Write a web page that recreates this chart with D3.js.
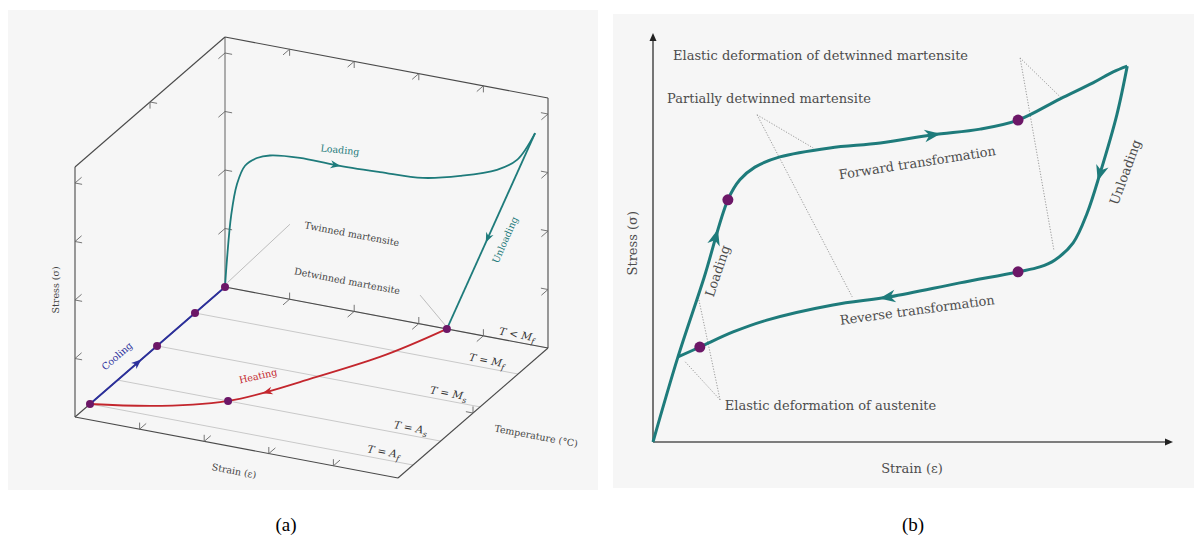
<!DOCTYPE html>
<html>
<head>
<meta charset="utf-8">
<script src="https://cdn.jsdelivr.net/npm/d3@7"></script>
<style>
  body { margin: 0; background: #fff; }
  text { font-family: "DejaVu Serif", serif; }
</style>
</head>
<body>
<svg id="fig" width="1194" height="544"></svg>
<script>
// ---------- panel (a): strain u, temperature depth t (0 = back, 1 = front), stress v ----------
const strainTicksA = [0.2, 0.4, 0.6, 0.8];
const stressTicksA = [0.234, 0.468, 0.702, 0.936];
const tempTicksA = [0.5];
// loading / unloading lie in the back plane (t = 0): [strain, stress]
const loadingA = [[0,0],[0.006,0.11],[0.019,0.29],[0.037,0.42],[0.062,0.50],[0.099,0.54],[0.139,0.56],
  [0.232,0.573],[0.341,0.571],[0.48,0.577],[0.613,0.586],[0.728,0.622],[0.842,0.674],[0.904,0.729],[0.96,0.85]];
const unloadingA = [[0.96,0.85],[0.687,0]];
// heating lies on the floor (v = 0): [strain, depth]
const heatingA = [[0.687,0],[0.599,0.257],[0.469,0.511],[0.342,0.716],[0.158,0.841],[0,0.9]];
const tempLevels = [0, 0.2, 0.453, 0.716, 0.9];
const tempNames = [["<","M","f"],["=","M","f"],["=","M","s"],["=","A","s"],["=","A","f"]];
const coolingDots = [0.9, 0.453, 0.2, 0];
const heatingDot = [0.342, 0.716];
const detwinDot = 0.687;

// ---------- panel (b): strain, stress (percent of axis) ----------
const loadingB = [[0,0],[4.8,20.8],[9.8,40.1],[14.4,59.2],[16.7,64.1],[19.6,67.2],[24.4,69.7],[34,71.9],
  [43.7,73.1],[53.8,75.1],[62.9,76.5],[70.2,78.7],[78.3,83.9],[84.6,87.8],[88.5,90.5],[91.2,91.9]];
const unloadingB = [[91.2,91.9],[89.2,80],[86,65.8],[83.5,56],[80.8,48.7],[77.3,44.5],[74.4,42.8],[70.2,41.6],
  [59,38.9],[45.6,35.5],[34.6,33.5],[21.9,29.8],[15.4,26.9],[9,23.2],[4.8,20.8]];
const dotsB = [[14.4,59.2],[70.2,78.7],[70.2,41.6],[9,23.2]];
const leadersB = [
  {from:[20,80], to:[[30.8,71.9],[38.3,35.5]]},
  {from:[70.6,93.9], to:[[78.7,83.9],[77.1,46.9]]},
  {from:[12.9,10.3], to:[[8.7,35.5],[6.2,19.6]]}
];

const teal = "#1e7b7b", purple = "#6c1767", blue = "#2b2f9c", red = "#c3262d", ink = "#4a4a4a";
const svg = d3.select("#fig");

function arrowOn(g, node, target, color, size) {
  const L = node.getTotalLength();
  let best = 0, bd = Infinity;
  for (let i = 0; i <= 500; i++) {
    const l = L * i / 500, p = node.getPointAtLength(l);
    const d = (p.x - target[0]) ** 2 + (p.y - target[1]) ** 2;
    if (d < bd) { bd = d; best = l; }
  }
  const p0 = node.getPointAtLength(Math.max(0, best - 2)), p1 = node.getPointAtLength(Math.min(L, best + 2));
  const ang = Math.atan2(p1.y - p0.y, p1.x - p0.x) * 180 / Math.PI;
  const p = node.getPointAtLength(best);
  g.append("path")
    .attr("d", `M${size},0 L${-size},${-size * 0.8} L${-size * 0.4},0 L${-size},${size * 0.8}Z`)
    .attr("transform", `translate(${p.x},${p.y}) rotate(${ang})`)
    .attr("fill", color);
}

// ================= panel (a) =================
svg.append("rect").attr("x", 8).attr("y", 10).attr("width", 590).attr("height", 480).attr("fill", "#f6f6f6");
const gA = svg.append("g");

const strainX = d3.scaleLinear([0, 1], [0, 323]), strainY = d3.scaleLinear([0, 1], [0, 61]);
const depthX = d3.scaleLinear([0, 1], [0, -150]), depthY = d3.scaleLinear([0, 1], [0, 130]);
const stressY = d3.scaleLinear([0, 1], [0, -250]);
const proj = (u, t, v) => [225 + strainX(u) + depthX(t), 287 + strainY(u) + depthY(t) + stressY(v)];
const angStrain = Math.atan2(strainY(1), strainX(1)) * 180 / Math.PI;
const line = d3.line();

// temperature level lines
tempLevels.forEach((t, i) => {
  gA.append("path").attr("d", line([proj(0, t, 0), proj(1, t, 0)]))
    .attr("stroke", "#c9c9c9").attr("stroke-width", 1).attr("fill", "none");
  const p = proj(0.955, t, 0);
  const tx = gA.append("text").attr("transform", `translate(${p[0]},${p[1]}) rotate(${angStrain})`)
    .attr("dy", -4).attr("text-anchor", "end").attr("font-size", 10.5).attr("fill", "#333");
  tx.append("tspan").attr("font-style", "italic").text("T");
  tx.append("tspan").text(" " + tempNames[i][0] + " ");
  tx.append("tspan").attr("font-style", "italic").text(tempNames[i][1]);
  tx.append("tspan").attr("font-style", "italic").attr("font-size", 8).attr("dy", 3).text(tempNames[i][2]);
});

// box edges
const edges = [
  [[0,0,0],[0,0,1],"#9a9a9a",1.6],
  [[0,0,1],[1,0,1],ink,1.1],
  [[1,0,1],[1,0,0],ink,1.1],
  [[0,0,0],[1,0,0],ink,1.1],
  [[0,0,1],[0,1,1],ink,1.1],
  [[0,1,1],[0,1,0],ink,1.1],
  [[0,1,0],[1,1,0],ink,1.1],
  [[1,0,0],[1,1,0],ink,1.1],
  [[0,1,0],[0,0,0],ink,1.1]
];
edges.forEach(e => gA.append("path").attr("d", line([proj(...e[0]), proj(...e[1])]))
  .attr("stroke", e[2]).attr("stroke-width", e[3]).attr("fill", "none"));

// ticks (two short strokes pointing into the neighbouring faces)
const tk = 0.022;
function tick(p, d1, d2) {
  const c = proj(...p);
  [d1, d2].forEach(d => {
    const q = proj(p[0] + d[0] * tk * 1.0, p[1] + d[1] * tk * 2.0, p[2] + d[2] * tk * 1.2);
    gA.append("path").attr("d", line([c, q])).attr("stroke", "#666").attr("stroke-width", 0.9);
  });
}
strainTicksA.forEach(u => {
  tick([u, 1, 0], [0, -1, 0], [0, 0, 1]);
  tick([u, 0, 0], [0, 1, 0], [0, 0, 1]);
  tick([u, 0, 1], [0, 1, 0], [0, 0, -1]);
});
stressTicksA.forEach(v => {
  tick([0, 0, v], [1, 0, 0], [0, 1, 0]);
  tick([0, 1, v], [1, 0, 0], [0, -1, 0]);
  tick([1, 0, v], [-1, 0, 0], [0, 1, 0]);
});
tempTicksA.forEach(t => {
  tick([0, t, 1], [1, 0, 0], [0, 0, -1]);
  tick([1, t, 0], [-1, 0, 0], [0, 0, 1]);
});

// leader lines
[[[0.008,0,0.02],[0.201,0,0.3]], [[0.604,0,0.115],[0.683,0,0.012]]].forEach(l =>
  gA.append("path").attr("d", line([proj(...l[0]), proj(...l[1])])).attr("stroke", "#bdbdbd").attr("stroke-width", 1));

// curves
const curveLine = d3.line().curve(d3.curveCatmullRom.alpha(0.5));
const smoothLine = d3.line().curve(d3.curveNatural);
const loadPath = gA.append("path").attr("d", curveLine(loadingA.map(d => proj(d[0], 0, d[1]))))
  .attr("fill", "none").attr("stroke", teal).attr("stroke-width", 1.8);
const unloadPath = gA.append("path").attr("d", line(unloadingA.map(d => proj(d[0], 0, d[1]))))
  .attr("fill", "none").attr("stroke", teal).attr("stroke-width", 1.8);
const heatPath = gA.append("path").attr("d", smoothLine(heatingA.map(d => proj(d[0], d[1], 0))))
  .attr("fill", "none").attr("stroke", red).attr("stroke-width", 1.8);
const coolPath = gA.append("path").attr("d", line([proj(0, coolingDots[0], 0), proj(0, 0, 0)]))
  .attr("fill", "none").attr("stroke", blue).attr("stroke-width", 1.8);

arrowOn(gA, loadPath.node(), proj(0.341, 0, 0.571), teal, 5);
arrowOn(gA, unloadPath.node(), proj(0.814, 0, 0.394), teal, 5);
arrowOn(gA, coolPath.node(), proj(0, 0.584, 0), blue, 5);
arrowOn(gA, heatPath.node(), proj(0.42, 0.618, 0), red, 5);

// dots
const dotsA = coolingDots.map(t => proj(0, t, 0)).concat([proj(heatingDot[0], heatingDot[1], 0), proj(detwinDot, 0, 0)]);
gA.selectAll("circle.a").data(dotsA).enter().append("circle")
  .attr("cx", d => d[0]).attr("cy", d => d[1]).attr("r", 4).attr("fill", purple);

// labels
const labA = [
  {t:"Twinned martensite", p:[0.393,0,0.308], r:angStrain, c:"#444"},
  {t:"Detwinned martensite", p:[0.378,0,0.116], r:angStrain, c:"#444"},
  {t:"Loading", p:[0.356,0,0.635], r:6, c:teal},
  {t:"Unloading", p:[0.867,0,0.40], r:-66, c:teal},
  {t:"Cooling", p:[-0.072,0.565,0], r:-41, c:blue},
  {t:"Heating", p:[0.345,0.523,0], r:-13, c:red},
  {t:"Strain (ε)", p:[0.5626,1.151,0], r:angStrain, c:"#444"},
  {t:"Temperature (°C)", p:[1.228,0.57,0], r:angStrain, c:"#444"},
  {t:"Stress (σ)", p:[0,1.13,0.576], r:-90, c:"#444"}
];
labA.forEach(l => {
  const p = proj(...l.p);
  gA.append("text").attr("transform", `translate(${p[0]},${p[1]}) rotate(${l.r})`)
    .attr("dy", "0.35em").attr("text-anchor", "middle").attr("font-size", 9.5).attr("fill", l.c).text(l.t);
});

// ================= panel (b) =================
svg.append("rect").attr("x", 613).attr("y", 14).attr("width", 581).attr("height", 474).attr("fill", "#f6f6f6");
const gB = svg.append("g");
const xB = d3.scaleLinear([0, 100], [653, 1173]);
const yB = d3.scaleLinear([0, 100], [442, 33]);
const pB = d => [xB(d[0]), yB(d[1])];

// axes
gB.append("path").attr("d", line([pB([0, 0]), pB([0, 98.5])])).attr("stroke", "#555").attr("stroke-width", 1.6);
gB.append("path").attr("d", line([pB([0, 0]), pB([98.8, 0])])).attr("stroke", "#555").attr("stroke-width", 1.6);
gB.append("path").attr("d", `M${xB(0)},${yB(100)} l-3.5,8 l7,0 Z`).attr("fill", "#222");
gB.append("path").attr("d", `M${xB(100)},${yB(0)} l-8,-3.5 l0,7 Z`).attr("fill", "#222");

// dotted leaders
leadersB.forEach(l => l.to.forEach(t =>
  gB.append("path").attr("d", line([pB(l.from), pB(t)])).attr("stroke", "#9a9a9a")
    .attr("stroke-width", 1).attr("stroke-dasharray", "1.2,1.6").attr("fill", "none")));

const loadB = gB.append("path").attr("d", curveLine(loadingB.map(pB)))
  .attr("fill", "none").attr("stroke", teal).attr("stroke-width", 3).attr("stroke-linejoin", "round");
const unloadB = gB.append("path").attr("d", curveLine(unloadingB.map(pB)))
  .attr("fill", "none").attr("stroke", teal).attr("stroke-width", 3).attr("stroke-linejoin", "round");

arrowOn(gB, loadB.node(), pB([10.6, 50.6]), teal, 8);
arrowOn(gB, loadB.node(), pB([53.8, 75.1]), teal, 8);
arrowOn(gB, unloadB.node(), pB([86, 65.8]), teal, 8);
arrowOn(gB, unloadB.node(), pB([45, 35.7]), teal, 8);

gB.selectAll("circle.b").data(dotsB).enter().append("circle")
  .attr("cx", d => xB(d[0])).attr("cy", d => yB(d[1])).attr("r", 5.5).attr("fill", purple);

const labB = [
  {t:"Elastic deformation of detwinned martensite", p:[3.85,93.4], r:0, a:"start"},
  {t:"Partially detwinned martensite", p:[2.7,82.9], r:0, a:"start"},
  {t:"Elastic deformation of austenite", p:[13.8,7.8], r:0, a:"start"},
  {t:"Forward transformation", p:[50.8,68.3], r:-8.8, a:"middle", m:1},
  {t:"Reverse transformation", p:[50.8,32.3], r:-7.6, a:"middle", m:1},
  {t:"Loading", p:[12.4,41.8], r:-71.6, a:"middle", m:1},
  {t:"Unloading", p:[90.8,66], r:-70, a:"middle", m:1},
  {t:"Strain (ε)", p:[49.8,-6.5], r:0, a:"middle", m:1},
  {t:"Stress (σ)", p:[-4,48.6], r:-90, a:"middle", m:1}
];
labB.forEach(l => {
  gB.append("text").attr("transform", `translate(${xB(l.p[0])},${yB(l.p[1])}) rotate(${l.r})`)
    .attr("dy", l.m ? "0.35em" : 0).attr("text-anchor", l.a).attr("font-size", 13)
    .attr("fill", "#4d4d4d").text(l.t);
});

// captions
[["(a)", 286], ["(b)", 913]].forEach(c =>
  svg.append("text").attr("x", c[1]).attr("y", 531).attr("text-anchor", "middle")
    .style("font-family", "'Liberation Serif', serif").attr("font-size", 19).attr("fill", "#000").text(c[0]));
</script>
</body>
</html>
